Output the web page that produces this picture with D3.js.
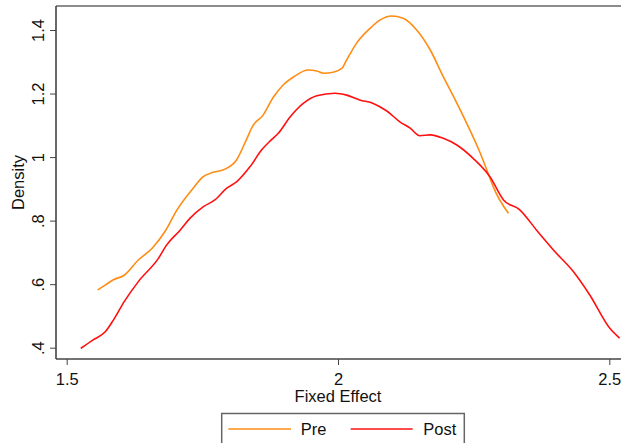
<!DOCTYPE html>
<html>
<head>
<meta charset="utf-8">
<script src="https://cdn.jsdelivr.net/npm/d3@7"></script>
<style>
html,body{margin:0;padding:0;background:#fff;}
svg{display:block;font-family:Arial,"Liberation Sans",Helvetica,sans-serif;}
</style>
</head>
<body>
<svg id="chart" width="621" height="443"></svg>
<script>
const xTicks = [1.5, 2, 2.5];
const xTickLabels = ["1.5", "2", "2.5"];
const yTicks = [0.4, 0.6, 0.8, 1.0, 1.2, 1.4];
const yTickLabels = [".4", ".6", ".8", "1", "1.2", "1.4"];
const seriesNames = ["Pre", "Post"];
const seriesColors = ["#FF8C14", "#FF1010"];

const preX = [1.557,1.571,1.586,1.606,1.632,1.658,1.682,1.703,1.733,1.751,1.770,1.792,1.813,1.831,1.843,1.862,1.881,1.899,1.918,1.945,1.961,1.973,1.991,2.007,2.016,2.034,2.059,2.077,2.099,2.120,2.145,2.170,2.194,2.216,2.237,2.262,2.280,2.286,2.314];
const preY = [0.582,0.597,0.614,0.628,0.676,0.714,0.768,0.833,0.902,0.938,0.952,0.962,0.991,1.054,1.098,1.132,1.189,1.227,1.252,1.274,1.271,1.264,1.267,1.279,1.306,1.358,1.405,1.431,1.444,1.437,1.400,1.337,1.253,1.180,1.107,1.013,0.934,0.907,0.823];

const postX = [1.526,1.548,1.571,1.586,1.606,1.632,1.669,1.684,1.709,1.727,1.752,1.773,1.795,1.813,1.838,1.859,1.877,1.890,1.912,1.936,1.961,1.994,2.016,2.040,2.065,2.090,2.114,2.133,2.151,2.170,2.194,2.219,2.249,2.280,2.305,2.335,2.366,2.400,2.434,2.464,2.501,2.519];
const postY = [0.398,0.424,0.450,0.487,0.545,0.608,0.681,0.723,0.770,0.807,0.844,0.865,0.902,0.922,0.970,1.022,1.054,1.075,1.127,1.169,1.193,1.201,1.195,1.180,1.169,1.145,1.111,1.091,1.067,1.070,1.059,1.038,0.996,0.938,0.865,0.834,0.770,0.702,0.639,0.566,0.461,0.430];

const svg = d3.select("#chart");
const x = d3.scaleLinear().domain([1.5, 2.5]).range([66.7, 609.3]);
const y = d3.scaleLinear().domain([0.4, 1.4]).range([347.7, 30]);
const plotLeft = 56, plotTop = 6, plotBottom = 359, plotRight = 640;

// top frame line
svg.append("line").attr("x1", plotLeft).attr("x2", plotRight)
  .attr("y1", plotTop).attr("y2", plotTop)
  .attr("stroke", "#666").attr("stroke-width", 1.5);

// series
const series = [
  {name: seriesNames[0], color: seriesColors[0], pts: preX.map((v, i) => [v, preY[i]])},
  {name: seriesNames[1], color: seriesColors[1], pts: postX.map((v, i) => [v, postY[i]])}
];
const line = d3.line().x(d => x(d[0])).y(d => y(d[1])).curve(d3.curveMonotoneX);
series.forEach(s => {
  svg.append("path").attr("d", line(s.pts)).attr("fill", "none")
    .attr("stroke", s.color).attr("stroke-width", 1.6).attr("stroke-linejoin", "round");
});

// y axis
const yAxis = d3.axisLeft(y).tickValues(yTicks).tickSize(6).tickFormat("");
const gy = svg.append("g").attr("transform", `translate(${plotLeft},0)`).call(yAxis);
gy.select(".domain").remove();
gy.selectAll(".tick line").attr("stroke", "#444").attr("stroke-width", 1);
svg.append("line").attr("x1", plotLeft).attr("x2", plotLeft).attr("y1", plotTop).attr("y2", plotBottom)
  .attr("stroke", "#444").attr("stroke-width", 1.6);
gy.selectAll(".tick").append("text")
  .attr("transform", "translate(-12.5,0) rotate(-90)")
  .attr("text-anchor", "middle").attr("fill", "#111")
  .style("font-size", "16.5px")
  .text((d, i) => yTickLabels[i]);

// x axis
const xAxis = d3.axisBottom(x).tickValues(xTicks).tickSize(6).tickFormat("");
const gx = svg.append("g").attr("transform", `translate(0,${plotBottom})`).call(xAxis);
gx.select(".domain").remove();
gx.selectAll(".tick line").attr("stroke", "#444").attr("stroke-width", 1);
svg.append("line").attr("x1", plotLeft).attr("x2", plotRight).attr("y1", plotBottom).attr("y2", plotBottom)
  .attr("stroke", "#444").attr("stroke-width", 1.6);
gx.selectAll(".tick").append("text")
  .attr("y", 26).attr("text-anchor", "middle").attr("fill", "#111")
  .style("font-size", "16.5px")
  .text((d, i) => xTickLabels[i]);

// axis titles
svg.append("text").attr("x", x(2)).attr("y", 401.5).attr("text-anchor", "middle")
  .attr("fill", "#111").style("font-size", "16.5px").text("Fixed Effect");
svg.append("text").attr("transform", `translate(23.5,182.5) rotate(-90)`).attr("text-anchor", "middle")
  .attr("fill", "#111").style("font-size", "16.5px").text("Density");

// legend
svg.append("rect").attr("x", 221.7).attr("y", 413.5).attr("width", 242.6).attr("height", 40)
  .attr("fill", "#fff").attr("stroke", "#666").attr("stroke-width", 1.5);
const legX = [[228.3, 291, 300.7], [350.7, 412.7, 423.3]];
series.forEach((s, i) => {
  svg.append("line").attr("x1", legX[i][0]).attr("x2", legX[i][1]).attr("y1", 429).attr("y2", 429)
    .attr("stroke", s.color).attr("stroke-width", 1.6);
  svg.append("text").attr("x", legX[i][2]).attr("y", 435).attr("fill", "#111")
    .style("font-size", "16.5px").text(s.name);
});
</script>
</body>
</html>
